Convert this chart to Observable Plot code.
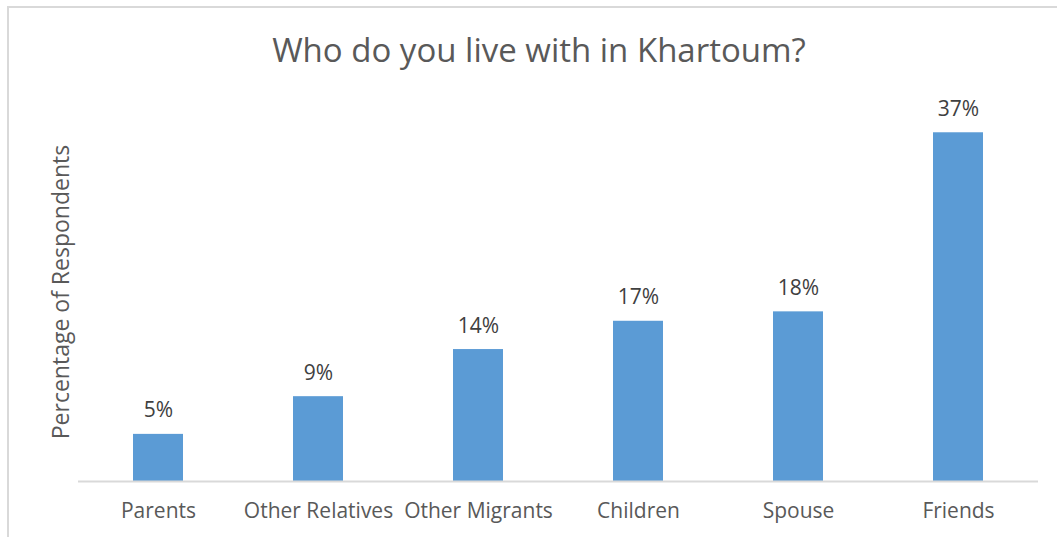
<!DOCTYPE html>
<html>
<head>
<meta charset="utf-8">
<script src="https://cdn.jsdelivr.net/npm/d3@7"></script>
<script src="https://cdn.jsdelivr.net/npm/@observablehq/plot@0.6"></script>
<style>
  html, body { margin: 0; padding: 0; background: #fff; }
  body { width: 1057px; height: 537px; position: relative; overflow: hidden; font-family: "Open Sans", sans-serif; }
  #frame { position: absolute; left: 7px; top: 6px; width: 1100px; height: 600px; border-top: 2px solid #d9d9d9; border-left: 2px solid #d9d9d9; box-sizing: border-box; }
  #title { position: absolute; left: 0; width: 1078px; top: 28px; text-align: center; font-size: 33px; color: #595959; line-height: 44px; }
  #ylabel { position: absolute; left: 60px; top: 292px; transform: translate(-50%, -50%) rotate(-90deg); white-space: nowrap; font-size: 23px; color: #595959; }
  #chart { position: absolute; left: 0; top: 0; }
</style>
</head>
<body>
<div id="frame"></div>
<div id="chart"></div>
<div id="title">Who do you live with in Khartoum?</div>
<div id="ylabel">Percentage of Respondents</div>
<script>
const categories = ["Parents", "Other Relatives", "Other Migrants", "Children", "Spouse", "Friends"];
const values = [5, 9, 14, 17, 18, 37];
const labels = ["5%", "9%", "14%", "17%", "18%", "37%"];

const data = categories.map((c, i) => ({category: c, value: values[i], label: labels[i]}));

const chart = Plot.plot({
  width: 1057,
  height: 537,
  marginLeft: 78,
  marginRight: 19,
  marginTop: 104,
  marginBottom: 56,
  style: {background: "transparent", fontFamily: "'Open Sans', sans-serif", color: "#595959"},
  x: {domain: categories, paddingInner: 0.6875, paddingOuter: 0.34375, label: null},
  y: {domain: [0, 40], axis: null},
  marks: [
    Plot.barY(data, {x: "category", y: "value", fill: "#5B9BD5"}),
    Plot.ruleY([0], {stroke: "#d9d9d9", strokeWidth: 2}),
    Plot.text(data, {x: "category", y: "value", text: "label", lineAnchor: "bottom", dy: -17, fontSize: 21, fill: "#404040"}),
    Plot.axisX({tickSize: 0, tickPadding: 22, fontSize: 21, fill: "#595959", label: null})
  ]
});
document.getElementById("chart").appendChild(chart);
</script>
</body>
</html>
